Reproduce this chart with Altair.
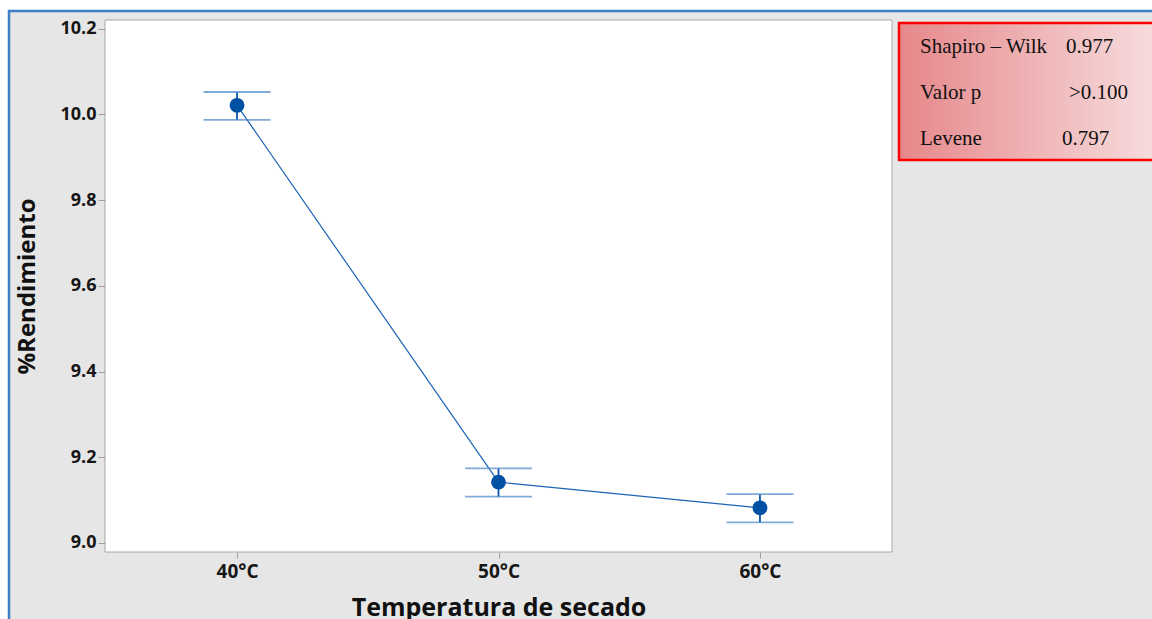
import altair as alt
import pandas as pd

# Mean %Rendimiento per drying temperature, with interval limits
temperaturas = ["40°C", "50°C", "60°C"]
medias = [10.021, 9.142, 9.082]
limite_inf = [9.987, 9.108, 9.048]
limite_sup = [10.052, 9.174, 9.114]

# Normality / variance test summary shown in the side box
etiquetas_prueba = ["Shapiro – Wilk", "Valor p", "Levene"]
valores_prueba = ["0.977", ">0.100", "0.797"]

W, H = 787, 532
FONT = "Open Sans"
AZUL = "#0a55a6"

df = pd.DataFrame({"temp": temperaturas, "media": medias,
                   "lo": limite_inf, "hi": limite_sup})
uno = pd.DataFrame({"k": [0]})

x_scale = alt.Scale(type="point", padding=0.505, domain=temperaturas)
y_scale = alt.Scale(domain=[8.979, 10.22], nice=False, zero=False)

x_enc = alt.X("temp:N", scale=x_scale,
              axis=alt.Axis(title="Temperatura de secado", labelAngle=0,
                            labelFont=FONT, labelFontSize=19, labelFontWeight="bold",
                            labelColor="#161616", labelPadding=4,
                            tickColor="#a0a0a0", tickSize=6, domain=False,
                            titleFont=FONT, titleFontSize=25, titleFontWeight="bold",
                            titleColor="#111111", titleX=W / 2, titleY=55,
                            titleBaseline="middle", titleAlign="center", zindex=1))
y_enc = alt.Y("media:Q", scale=y_scale,
              axis=alt.Axis(title="%Rendimiento", values=[9.0, 9.2, 9.4, 9.6, 9.8, 10.0, 10.2],
                            format=".1f", grid=False, domain=False,
                            labelFont=FONT, labelFontSize=18, labelFontWeight="bold",
                            labelColor="#161616", labelPadding=2,
                            tickColor="#a0a0a0", tickSize=7,
                            titleFont=FONT, titleFontSize=24, titleFontWeight="bold",
                            titleColor="#111111", titleAngle=270,
                            titleX=-78, titleY=266, titleAlign="center",
                            titleBaseline="middle", zindex=1))

x_sin = alt.X("temp:N", scale=x_scale, axis=None)


def y_sin(campo):
    return alt.Y(campo, scale=y_scale, axis=None)


# Grey window with blue frame behind everything
marco = alt.Chart(uno).mark_rect(fill="#e6e6e6", stroke="#3f7fc8", strokeWidth=2.5).encode(
    x=alt.value(-96), x2=alt.value(W + 300), y=alt.value(-9), y2=alt.value(H + 200))
# White plotting area
area = alt.Chart(uno).mark_rect(fill="white", stroke="#a8a8a8", strokeWidth=1).encode(
    x=alt.value(0), x2=alt.value(W), y=alt.value(0), y2=alt.value(H))

base = alt.Chart(df)
linea = base.mark_line(color="#1c64b4", strokeWidth=1.2).encode(x=x_enc, y=y_enc)
barras = base.mark_rule(color=AZUL, strokeWidth=1.8).encode(
    x=x_sin, y=y_sin("lo:Q"), y2="hi:Q")
cap_inf = base.mark_tick(color="#4a88c8", size=67, thickness=1.8).encode(
    x=x_sin, y=y_sin("lo:Q"))
cap_sup = base.mark_tick(color="#4a88c8", size=67, thickness=1.8).encode(
    x=x_sin, y=y_sin("hi:Q"))
puntos = base.mark_point(filled=True, shape="circle", size=220, color="#0050a4", opacity=1).encode(
    x=x_sin, y=y_sin("media:Q"))

# Test summary box
gradiente = alt.LinearGradient(gradient="linear", x1=0, x2=1, y1=0, y2=0,
                               stops=[alt.GradientStop(offset=0, color="#e6878a"),
                                      alt.GradientStop(offset=1, color="#f8e0e1")])
caja = alt.Chart(uno).mark_rect(fill=gradiente, stroke="#ff0000", strokeWidth=2.5).encode(
    x=alt.value(794), x2=alt.value(1060), y=alt.value(3), y2=alt.value(140))

tabla = pd.DataFrame({"etiqueta": etiquetas_prueba, "valor": valores_prueba,
                      "fila": [0, 1, 2], "xv": [961, 964, 957]})
fila_y = alt.Y("fila:Q", scale=alt.Scale(domain=[0, 2], range=[33, 125]), axis=None)
texto_et = alt.Chart(tabla).mark_text(font="Liberation Serif", fontSize=21, align="left",
                                      baseline="alphabetic", color="#111111").encode(
    x=alt.value(815), y=fila_y, text="etiqueta:N")
texto_val = alt.Chart(tabla).mark_text(font="Liberation Serif", fontSize=21, align="left",
                                       baseline="alphabetic", color="#111111").encode(
    x=alt.X("xv:Q", scale=alt.Scale(domain=[0, W], range=[0, W]), axis=None),
    y=fila_y, text="valor:N")

chart = alt.layer(marco, area, linea, barras, cap_inf, cap_sup, puntos,
                  caja, texto_et, texto_val).resolve_scale(y="independent", x="independent").properties(
    width=W, height=H,
    autosize=alt.AutoSizeParams(type="none"),
    padding={"left": 105, "top": 20, "right": 260, "bottom": 67},
    background="white",
).configure_view(stroke=None, fill=None)

chart.save("out.html", embed_options={"renderer": "svg", "actions": False})
